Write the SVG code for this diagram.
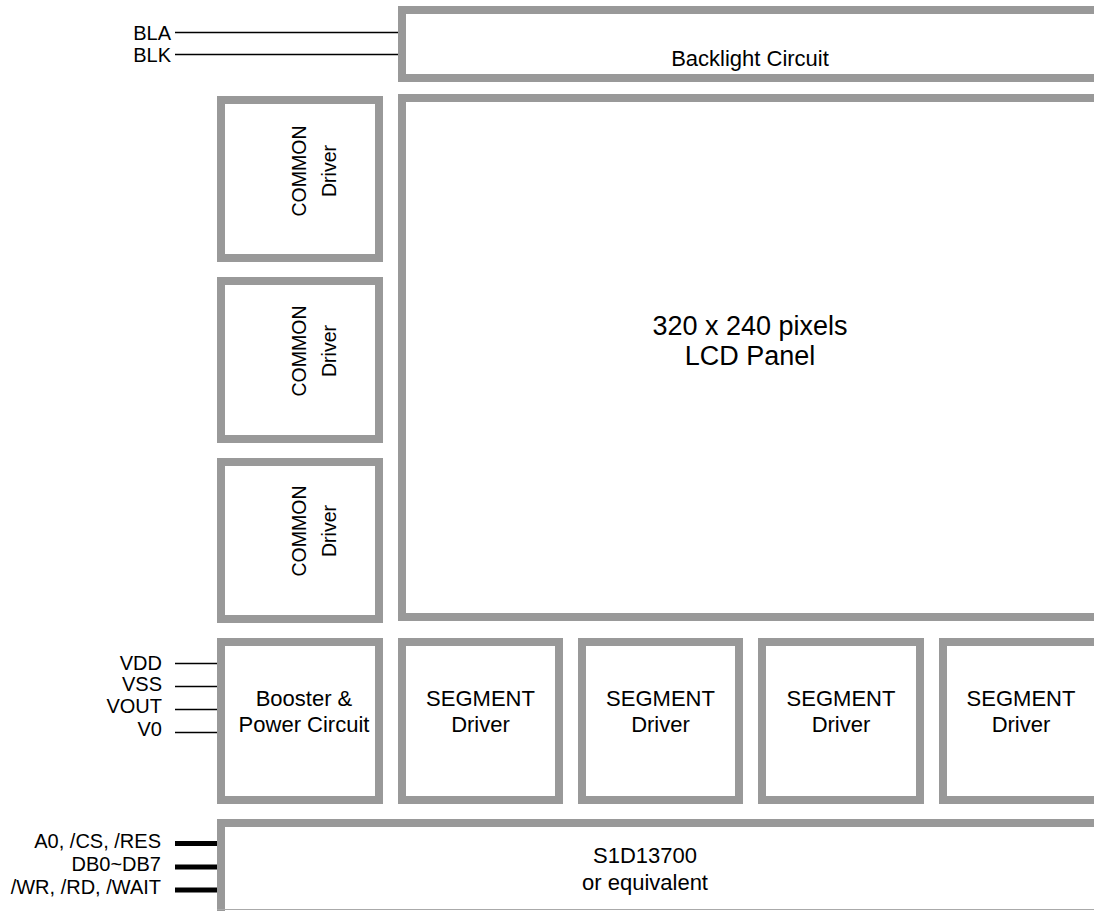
<svg xmlns="http://www.w3.org/2000/svg" width="1094" height="911" viewBox="0 0 1094 911">
<style>
.box{fill:#fff;stroke:#999;stroke-width:8}
.t{font-family:"Liberation Sans",Arial,sans-serif;fill:#000}
.c{text-anchor:middle;font-size:22px}
.l{text-anchor:end;font-size:20px}
.w{stroke:#000;stroke-width:1.5;fill:none}
.bus{stroke:#000;stroke-width:5;fill:none}
</style>
<rect width="1094" height="911" fill="#fff"/>
<g id="connectors">
<line class="w" x1="175" y1="32.5" x2="398" y2="32.5"/>
<line class="w" x1="175" y1="54.5" x2="398" y2="54.5"/>
<line class="w" x1="175" y1="663.5" x2="217" y2="663.5"/>
<line class="w" x1="175" y1="686.5" x2="217" y2="686.5"/>
<line class="w" x1="175" y1="709.5" x2="217" y2="709.5"/>
<line class="w" x1="175" y1="732.5" x2="217" y2="732.5"/>
<line class="bus" x1="175" y1="843.5" x2="217" y2="843.5"/>
<line class="bus" x1="175" y1="867" x2="217" y2="867"/>
<line class="bus" x1="175" y1="890" x2="217" y2="890"/>
</g>
<g id="labels" class="t">
<text class="t l" x="171" y="39.5">BLA</text>
<text class="t l" x="171" y="61.5">BLK</text>
<text class="t l" x="162" y="670">VDD</text>
<text class="t l" x="162" y="691">VSS</text>
<text class="t l" x="162" y="713">VOUT</text>
<text class="t l" x="162" y="735.5">V0</text>
<text class="t l" x="161" y="847.5">A0, /CS, /RES</text>
<text class="t l" x="161" y="871">DB0~DB7</text>
<text class="t l" x="161" y="893.5">/WR, /RD, /WAIT</text>
</g>
<g id="backlight">
<rect class="box" x="402" y="10" width="720" height="68"/>
<text class="t c" x="750" y="66">Backlight Circuit</text>
</g>
<g id="lcd">
<rect class="box" x="402" y="98" width="720" height="519"/>
<text class="t c" x="750" y="335" style="font-size:27px">320 x 240 pixels</text>
<text class="t c" x="750" y="365" style="font-size:27px">LCD Panel</text>
</g>
<g id="common1">
<rect class="box" x="221" y="100" width="158" height="158"/>
<text class="t c" style="font-size:19.5px" transform="translate(306,171) rotate(-90)">COMMON</text>
<text class="t c" style="font-size:19.5px" transform="translate(336,171) rotate(-90)">Driver</text>
</g>
<g id="common2">
<rect class="box" x="221" y="281" width="158" height="158"/>
<text class="t c" style="font-size:19.5px" transform="translate(306,351) rotate(-90)">COMMON</text>
<text class="t c" style="font-size:19.5px" transform="translate(336,351) rotate(-90)">Driver</text>
</g>
<g id="common3">
<rect class="box" x="221" y="462" width="158" height="157"/>
<text class="t c" style="font-size:19.5px" transform="translate(306,531) rotate(-90)">COMMON</text>
<text class="t c" style="font-size:19.5px" transform="translate(336,531) rotate(-90)">Driver</text>
</g>
<g id="booster">
<rect class="box" x="221" y="642" width="158" height="158"/>
<text class="t c" x="304" y="706">Booster &amp;</text>
<text class="t c" x="304" y="732">Power Circuit</text>
</g>
<g id="seg1">
<rect class="box" x="402" y="642" width="157" height="158"/>
<text class="t c" x="480.5" y="706">SEGMENT</text>
<text class="t c" x="480.5" y="732">Driver</text>
</g>
<g id="seg2">
<rect class="box" x="582" y="642" width="157" height="158"/>
<text class="t c" x="660.5" y="706">SEGMENT</text>
<text class="t c" x="660.5" y="732">Driver</text>
</g>
<g id="seg3">
<rect class="box" x="762" y="642" width="158" height="158"/>
<text class="t c" x="841" y="706">SEGMENT</text>
<text class="t c" x="841" y="732">Driver</text>
</g>
<g id="seg4">
<rect class="box" x="943" y="642" width="157" height="158"/>
<text class="t c" x="1021" y="706">SEGMENT</text>
<text class="t c" x="1021" y="732">Driver</text>
</g>
<g id="s1d13700">
<rect class="box" x="221" y="823" width="900" height="120"/>
<line x1="217" y1="909.5" x2="1094" y2="909.5" stroke="#aaa" stroke-width="1"/>
<text class="t c" x="645" y="863">S1D13700</text>
<text class="t c" x="645" y="890">or equivalent</text>
</g>
</svg>
